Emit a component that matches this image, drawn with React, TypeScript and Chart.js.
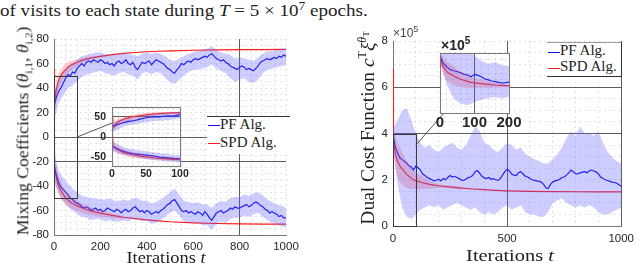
import React, { useEffect, useRef } from 'react';
import { Chart, registerables } from 'chart.js';
Chart.register(...registerables);

// ---------- categories (iterations) ----------
const tLine = [0, 2, 5, 10, 15, 20, 25, 30, 40, 50, 60, 70, 80, 90, 100,
  110, 120, 130, 140, 150, 160, 170, 180, 190, 200,
  210, 220, 230, 240, 250, 260, 270, 280, 290, 300,
  310, 320, 330, 340, 350, 360, 370, 380, 390, 400,
  410, 420, 430, 440, 450, 460, 470, 480, 490, 500,
  510, 520, 530, 540, 550, 560, 570, 580, 590, 600,
  610, 620, 630, 640, 650, 660, 670, 680, 690, 700,
  710, 720, 730, 740, 750, 760, 770, 780, 790, 800,
  810, 820, 830, 840, 850, 860, 870, 880, 890, 900,
  910, 920, 930, 940, 950, 960, 970, 980, 990, 1000];
const tBand = [0, 20, 40, 60, 80, 100, 120, 140, 160, 180, 200, 220, 240, 260, 280, 300,
  320, 340, 360, 380, 400, 420, 440, 460, 480, 500, 520, 540, 560, 580, 600,
  620, 640, 660, 680, 700, 720, 740, 760, 780, 800, 820, 840, 860, 880, 900,
  920, 940, 960, 980, 1000];
const tSpd = [0, 1, 3, 5, 10, 15, 20, 25, 30, 40, 50, 60, 70, 80, 90, 100, 120, 140, 160, 180,
  200, 250, 300, 350, 400, 450, 500, 600, 700, 800, 900, 1000];
const tSpdBand = [0, 5, 10, 20, 30, 40, 50, 60, 80, 100, 120, 150, 200, 300];

// ---------- left: mixing coefficients ----------
const pfUp = [24, 26, 29, 32, 35, 37, 39, 40,
  44, 48, 51, 50, 53, 52, 56,
  58, 60, 58, 61, 62, 61, 63, 62, 61, 63,
  62, 60, 61, 59, 60, 58, 61, 62, 60, 61,
  63, 60, 59, 61, 57, 55, 58, 61, 60, 61,
  62, 59, 61, 63, 62, 61, 60, 58, 56, 55,
  53, 52, 55, 57, 60, 59, 61, 62, 61, 63,
  64, 63, 64, 65, 66, 65, 67, 68, 66, 64,
  63, 62, 63, 61, 60, 58, 57, 56, 55, 57,
  58, 57, 55, 56, 55, 54, 56, 58, 61, 62,
  63, 64, 63, 64, 65, 64, 66, 65, 67, 66];
const pfLow = [-22, -24, -27, -31, -34, -37, -39, -41,
  -43, -45, -47, -50, -51, -53, -54,
  -55, -57, -58, -57, -58, -60, -59, -58, -60, -59,
  -61, -60, -58, -59, -60, -61, -59, -60, -62, -60,
  -59, -61, -60, -58, -57, -59, -61, -60, -62, -60,
  -61, -63, -62, -61, -62, -60, -59, -57, -55, -54,
  -52, -51, -54, -57, -60, -61, -60, -62, -61, -62,
  -63, -61, -62, -64, -61, -63, -66, -68, -65, -62,
  -61, -60, -62, -61, -60, -58, -59, -57, -58, -58,
  -57, -56, -55, -57, -56, -54, -53, -54, -56, -57,
  -59, -60, -62, -61, -62, -63, -65, -64, -66, -66];
const spdUp = [55, 22, 28, 32, 39, 43, 46, 48.5, 50.5, 53,
  55, 57, 58.3, 59.3, 60.2, 61, 62.5, 63.6, 64.5, 65.2,
  65.8, 67.3, 68.3, 69, 69.6, 70, 70.3, 70.8, 71.1, 71.3, 71.4, 71.5];
const spdLow = [2, -20, -25, -28, -33, -37, -40, -42, -44, -47,
  -49.5, -51.5, -53, -54.3, -55.3, -56.2, -57.8, -59.2, -60.3, -61.3,
  -62.2, -64, -65.5, -66.7, -67.7, -68.5, -69.2, -70.1, -70.6, -70.9, -71.1, -71.2];
const pfUpHi = [36, 46, 52, 58, 60, 63, 66, 67, 68, 69, 69, 68, 67, 67, 68, 69, 68, 67, 66, 68,
  69, 68, 69, 68, 66, 63, 62, 64, 66, 68, 69, 70, 71, 72, 74, 71, 69, 68, 67, 64,
  65, 64, 63, 62, 65, 68, 70, 70, 71, 72, 72];
const pfUpLo = [12, 28, 34, 40, 42, 46, 49, 51, 52, 53, 54, 52, 51, 50, 52, 53, 51, 50, 47, 52,
  53, 51, 53, 52, 48, 45, 43, 47, 50, 53, 55, 55, 56, 57, 59, 56, 54, 52, 48, 45,
  47, 48, 45, 44, 47, 52, 55, 56, 57, 58, 59];
const pfLowHi = [-10, -28, -33, -38, -42, -45, -48, -49, -50, -50, -51, -51, -50, -52, -52, -51, -52, -50, -50, -52,
  -52, -54, -53, -51, -48, -45, -42, -47, -52, -53, -54, -53, -55, -55, -58, -54, -52, -53, -50, -49,
  -49, -47, -48, -46, -45, -48, -51, -53, -55, -56, -58];
const pfLowLo = [-36, -46, -52, -57, -60, -63, -65, -66, -68, -67, -67, -69, -68, -69, -69, -68, -69, -67, -67, -69,
  -68, -71, -70, -68, -65, -62, -60, -64, -69, -70, -70, -70, -72, -72, -76, -71, -69, -70, -67, -66,
  -66, -64, -65, -63, -62, -65, -68, -70, -71, -73, -74];
const spdUpHi = [58, 40, 46, 52, 55, 58, 60, 61.5, 62.5, 63.5, 64.5, 65.5, 66.6, 68.6];
const spdUpLo = [5, 22, 30, 38, 44, 48, 50, 52.5, 55.5, 58, 60.5, 62.7, 65, 68];
const spdLowHi = [5, -18, -24, -32, -37, -41, -44, -46.5, -49.5, -52, -54, -57, -60, -64.5];
const spdLowLo = [-30, -36, -42, -47, -51, -53, -55, -56.5, -59, -60.5, -62, -63.5, -65, -67];

// ---------- right: dual cost (x 10^5) ----------
const pfCost = [4.0, 3.85, 3.7, 3.42, 3.3, 3.15, 3.06, 2.95,
  2.87, 2.8, 2.72, 2.6, 2.55, 2.42, 2.6,
  2.52, 2.42, 2.25, 2.18, 2.1, 2.05, 2.0, 1.95, 1.98, 2.02,
  1.95, 2.05, 2.0, 2.1, 2.18, 2.12, 2.15, 2.1, 2.05, 1.98,
  1.97, 2.03, 2.1, 2.12, 2.2, 2.35, 2.4, 2.28, 2.15, 2.08,
  2.05, 2.1, 2.02, 2.05, 2.0, 1.97, 2.05, 2.2, 2.35, 2.45,
  2.38, 2.25, 2.2, 2.18, 2.3, 2.35, 2.25, 2.15, 2.12, 2.05,
  2.0, 1.97, 1.95, 1.93, 1.9, 1.8, 1.65, 1.62, 1.8, 1.9,
  1.95, 1.97, 2.02, 2.1, 2.12, 2.2, 2.3, 2.42, 2.35, 2.26,
  2.25, 2.3, 2.33, 2.35, 2.3, 2.38, 2.42, 2.38, 2.33, 2.25,
  2.12, 2.05, 2.0, 1.97, 1.93, 1.9, 1.88, 1.85, 1.78, 1.72];
const spdCost = [6.8, 4.0, 3.75, 3.5, 3.15, 2.95, 2.8, 2.7, 2.6, 2.47,
  2.35, 2.23, 2.15, 2.07, 2.0, 1.96, 1.9, 1.85, 1.8, 1.77,
  1.74, 1.69, 1.64, 1.6, 1.57, 1.54, 1.52, 1.5, 1.49, 1.48, 1.48, 1.48];
const pfCostHi = [4.2, 4.6, 5.0, 5.1, 4.6, 4.0, 3.6, 3.4, 3.5, 3.3, 3.2, 3.4, 3.5, 3.6, 3.4, 3.3, 3.5, 3.9, 4.3, 4.1,
  3.6, 3.5, 3.3, 3.2, 3.4, 3.6, 3.5, 3.3, 3.4, 3.1, 3.0, 2.9, 2.8, 2.7, 2.7, 2.9, 3.1, 3.4, 3.8, 4.1,
  3.9, 4.3, 4.0, 4.0, 3.9, 4.1, 3.6, 3.2, 3.0, 2.8, 2.7];
const pfCostLo = [3.6, 1.8, 0.8, 0.4, 0.3, 0.5, 0.7, 0.8, 0.9, 0.8, 0.9, 0.7, 0.8, 0.9, 1.0, 0.9, 0.8, 0.7, 0.8, 0.6,
  0.5, 0.6, 0.5, 0.6, 0.8, 0.9, 0.7, 0.8, 0.9, 0.6, 0.5, 0.5, 0.4, 0.4, 0.6, 1.0, 1.1, 1.2, 1.0, 0.9,
  0.8, 0.9, 0.8, 0.9, 0.8, 0.6, 0.5, 0.5, 0.6, 0.7, 0.8];
const spdCostHi = [4.2, 4.0, 3.9, 3.6, 3.4, 3.2, 3.0, 2.8, 2.5, 2.3, 2.2, 2.0, 1.8, 1.7];
const spdCostLo = [3.6, 2.9, 2.5, 2.1, 1.9, 1.8, 1.7, 1.65, 1.6, 1.6, 1.6, 1.6, 1.65, 1.58];

const legendLabels = ['PF Alg.', 'SPD Alg.'];

// ---------- styling ----------
const SERIF = '"Liberation Serif", "Times New Roman", serif';
const SANS = '"Liberation Sans", Arial, sans-serif';
const BLUE = '#0c0ce8';
const RED = '#ff1a1a';
const BLUE_BAND = 'rgba(90, 90, 255, 0.30)';
const RED_BAND = 'rgba(255, 80, 80, 0.28)';
const DARK = 'rgba(30,30,30,0.72)';
const LIGHT = 'rgba(0,0,0,0.11)';
const TICK = '#262626';

const pts = (ts: number[], vs: number[]) => ts.map((t, i) => ({ x: t, y: vs[i] }));
const lineDs = (ts: number[], vs: number[], color: string) => ({
  data: pts(ts, vs), borderColor: color, borderWidth: 1.2, pointRadius: 0, fill: false, tension: 0,
});
const bandDs = (ts: number[], hi: number[], lo: number[], color: string) => [
  { data: pts(ts, hi), borderColor: 'transparent', borderWidth: 0, backgroundColor: color, pointRadius: 0, fill: '+1', tension: 0 },
  { data: pts(ts, lo), borderColor: 'transparent', borderWidth: 0, pointRadius: 0, fill: false, tension: 0 },
];

const near = (a: number, b: number) => Math.abs(a - b) < 1e-6;

function axis(o: any) {
  const isLabel = (v: number) => near(v / o.every, Math.round(v / o.every));
  const isDark = (v: number) => o.dark.some((d: number) => near(d, v));
  return {
    type: 'linear',
    min: o.min,
    max: o.max,
    afterFit: (s: any) => { if (o.horizontal) s.height = o.fixed; else s.width = o.fixed; },
    ticks: {
      stepSize: o.step, autoSkip: false, maxRotation: 0, includeBounds: false, maxTicksLimit: 1000,
      padding: o.padding, font: o.font, color: TICK,
      callback: (v: number) => (isLabel(v) ? String(Math.round(v * 100) / 100) : ''),
    },
    grid: {
      drawTicks: false, lineWidth: 1,
      color: (ctx: any) => {
        const v = ctx.tick ? ctx.tick.value : undefined;
        if (v === undefined) return LIGHT;
        return isDark(v) ? DARK : LIGHT;
      },
    },
    border: {
      display: o.border, color: '#777', width: 1,
      dash: (ctx: any) => {
        const v = ctx.tick ? ctx.tick.value : undefined;
        if (v === undefined) return [];
        return isDark(v) ? [] : [2, 3];
      },
    },
  };
}

const framePlugin = {
  id: 'insetFrame',
  beforeDraw(chart: any) {
    const { ctx, chartArea: a } = chart;
    ctx.save();
    ctx.fillStyle = '#ffffff';
    ctx.fillRect(a.left, a.top, a.right - a.left, a.bottom - a.top);
    ctx.restore();
  },
  afterDraw(chart: any) {
    const { ctx, chartArea: a } = chart;
    ctx.save();
    ctx.strokeStyle = '#7a7a7a';
    ctx.lineWidth = 1;
    ctx.strokeRect(Math.round(a.left) + 0.5, Math.round(a.top) + 0.5, Math.round(a.right - a.left), Math.round(a.bottom - a.top));
    ctx.restore();
  },
};

const zoomBox = (x0: number, x1: number, y0: number, y1: number, from: number[], to: number[]) => ({
  id: 'zoomBox',
  afterDatasetsDraw(chart: any) {
    const { ctx } = chart;
    const { x, y } = chart.scales;
    const l = Math.round(x.getPixelForValue(x0)) + 0.5;
    const r = Math.round(x.getPixelForValue(x1)) + 0.5;
    const t = Math.round(y.getPixelForValue(y1)) + 0.5;
    const b = Math.round(y.getPixelForValue(y0)) + 0.5;
    ctx.save();
    ctx.strokeStyle = '#3a3a3a';
    ctx.lineWidth = 1;
    ctx.strokeRect(l, t, r - l, b - t);
    ctx.beginPath();
    ctx.strokeStyle = '#555';
    ctx.moveTo(x.getPixelForValue(from[0]), y.getPixelForValue(from[1]));
    ctx.lineTo(to[0], to[1]);
    ctx.stroke();
    ctx.restore();
  },
});

function config(datasets: any[], x: any, y: any, padding: any, plugins: any[]) {
  return {
    type: 'line',
    data: { datasets },
    options: {
      responsive: false, animation: false, devicePixelRatio: 1, events: [],
      layout: { padding },
      plugins: { legend: { display: false }, tooltip: { enabled: false } },
      scales: { x, y },
    },
    plugins,
  } as any;
}

const leftDatasets = () => [
  ...bandDs(tBand, pfUpHi, pfUpLo, BLUE_BAND),
  ...bandDs(tBand, pfLowHi, pfLowLo, BLUE_BAND),
  ...bandDs(tSpdBand, spdUpHi, spdUpLo, RED_BAND),
  ...bandDs(tSpdBand, spdLowHi, spdLowLo, RED_BAND),
  lineDs(tLine, pfUp, BLUE),
  lineDs(tLine, pfLow, BLUE),
  lineDs(tSpd, spdUp, RED),
  lineDs(tSpd, spdLow, RED),
];
const rightDatasets = () => [
  ...bandDs(tBand, pfCostHi, pfCostLo, BLUE_BAND),
  ...bandDs(tSpdBand, spdCostHi, spdCostLo, RED_BAND),
  lineDs(tLine, pfCost, BLUE),
  lineDs(tSpd, spdCost, RED),
];

const mainFont = { family: SANS, size: 11.5 };

export default function App() {
  const lRef = useRef<HTMLCanvasElement>(null);
  const liRef = useRef<HTMLCanvasElement>(null);
  const rRef = useRef<HTMLCanvasElement>(null);
  const riRef = useRef<HTMLCanvasElement>(null);

  useEffect(() => {
    const charts: Chart[] = [];
    charts.push(new Chart(lRef.current as any, config(
      leftDatasets(),
      axis({ min: 0, max: 1000, step: 50, every: 200, dark: [800], horizontal: true, fixed: 28, padding: 5, font: mainFont, border: true }),
      axis({ min: -80, max: 80, step: 5, every: 20, dark: [0, -20], horizontal: false, fixed: 54, padding: 5, font: mainFont, border: true }),
      { left: 0, top: 39, right: 34, bottom: 0 },
      [zoomBox(0, 100, -50, 50, [100, 0], [112, 123])],
    )));
    charts.push(new Chart(liRef.current as any, config(
      leftDatasets(),
      axis({ min: 0, max: 100, step: 10, every: 50, dark: [], horizontal: true, fixed: 19, padding: 2, font: { family: SANS, size: 10.5, weight: 'bold' }, border: false }),
      axis({ min: -72, max: 74, step: 10, every: 50, dark: [0, 50], horizontal: false, fixed: 30, padding: 6, font: { family: SANS, size: 10.5, weight: 'bold' }, border: false }),
      { left: 0, top: 10, right: 12, bottom: 0 },
      [framePlugin],
    )));
    charts.push(new Chart(rRef.current as any, config(
      rightDatasets(),
      axis({ min: 0, max: 1000, step: 100, every: 500, dark: [500, 1000], horizontal: true, fixed: 37, padding: 6, font: mainFont, border: true }),
      axis({ min: 0, max: 8, step: 0.5, every: 2, dark: [4, 6], horizontal: false, fixed: 73, padding: 5, font: mainFont, border: true }),
      { left: 0, top: 41, right: 17, bottom: 0 },
      [zoomBox(0, 100, 0, 4, [100, 3.5], [125, 112])],
    )));
    charts.push(new Chart(riRef.current as any, config(
      rightDatasets(),
      axis({ min: 0, max: 200, step: 20, every: 100, dark: [100], horizontal: true, fixed: 20, padding: 1, font: { family: SANS, size: 15, weight: 'bold' }, border: false }),
      axis({ min: -0.3, max: 4.2, step: 0.5, every: 2, dark: [2], horizontal: false, fixed: 35, padding: 4, font: { family: SANS, size: 15, weight: 'bold' }, border: false }),
      { left: 0, top: 15, right: 16, bottom: 0 },
      [framePlugin],
    )));
    return () => charts.forEach((c) => c.destroy());
  }, []);

  const abs = (s: any) => ({ position: 'absolute', ...s }) as React.CSSProperties;
  const serifText = { fontFamily: SERIF, color: '#1e1e1e', whiteSpace: 'nowrap' as const };
  const swatch = (color: string, top: number) => (
    <div style={abs({ left: 1, top, width: 12, height: 0, borderTop: `1.4px solid ${color}` })} />
  );
  const legendRow = (label: string, top: number) => (
    <div style={abs({ left: 13, top, fontSize: 15, lineHeight: '15px', ...serifText })}>{label}</div>
  );

  return (
    <div style={abs({ position: 'fixed', left: 0, top: 0, width: 640, height: 263, overflow: 'hidden', background: '#fff' })}>
      <div style={abs({ left: 0, top: 2, fontSize: 17, lineHeight: '17px', transform: 'scaleX(1.12)', transformOrigin: 'left top', ...serifText })}>
        of visits to each state during <i>T</i> = 5 × 10<span style={{ fontSize: 12, position: 'relative', top: -6 }}>7</span> epochs.
      </div>

      <canvas ref={lRef} width={320} height={263} style={abs({ left: 0, top: 0, width: 320, height: 263 })} />
      <canvas ref={rRef} width={320} height={263} style={abs({ left: 320, top: 0, width: 320, height: 263 })} />
      <canvas ref={liRef} width={110} height={90} style={abs({ left: 82, top: 95, width: 110, height: 90 })} />
      <canvas ref={riRef} width={120} height={95} style={abs({ left: 405, top: 38, width: 120, height: 95 })} />

      {/* axis titles */}
      <div style={abs({ left: 26, top: 130.5, fontSize: 17, lineHeight: '17px', transform: 'translate(-50%,-50%) rotate(-90deg) scaleX(1.04)', ...serifText })}>
        Mixing Coefficients (<i>θ</i><sub style={{ fontSize: 11 }}>i,1</sub>, <i>θ</i><sub style={{ fontSize: 11 }}>i,2</sub>)
      </div>
      <div style={abs({ left: 166, top: 249, fontSize: 17, lineHeight: '17px', transform: 'translateX(-50%) scaleX(1.08)', ...serifText })}>
        Iterations <i>t</i>
      </div>
      <div style={abs({ left: 365, top: 127.5, fontSize: 19.5, lineHeight: '19.5px', transform: 'translate(-50%,-50%) rotate(-90deg)', ...serifText })}>
        Dual Cost Function <i>c</i><sup style={{ fontSize: 12 }}>T</sup><i>ξ</i><sup style={{ fontSize: 12 }}><i>θ</i><sub style={{ fontSize: 9 }}>T</sub></sup>
      </div>
      <div style={abs({ left: 509.5, top: 246.5, fontSize: 17, lineHeight: '17px', transform: 'translateX(-50%) scaleX(1.2)', ...serifText })}>
        Iterations <i>t</i>
      </div>

      {/* exponent labels */}
      <div style={abs({ left: 393, top: 27, fontSize: 12, lineHeight: '12px', fontFamily: SANS, color: '#444', whiteSpace: 'nowrap' })}>
        ×10<span style={{ fontSize: 9, position: 'relative', top: -5 }}>5</span>
      </div>
      <div style={abs({ left: 441, top: 38, fontSize: 14, lineHeight: '14px', fontFamily: SANS, fontWeight: 'bold', color: TICK, whiteSpace: 'nowrap' })}>
        ×10<span style={{ fontSize: 10, position: 'relative', top: -6 }}>5</span>
      </div>

      {/* legends */}
      <div style={abs({ left: 207, top: 116, width: 83, height: 38, background: '#fff', borderTop: '1px solid #333', boxSizing: 'border-box' })}>
        {swatch(BLUE, 8)}
        {legendRow(legendLabels[0], 0)}
        {swatch(RED, 26)}
        {legendRow(legendLabels[1], 18)}
      </div>
      <div style={abs({ left: 547, top: 42, width: 75, height: 35, background: '#fff', borderTop: '1px solid #999', borderRight: '1px solid #333', borderBottom: '1px solid #333', boxSizing: 'border-box' })}>
        {swatch(BLUE, 8.5)}
        {legendRow(legendLabels[0], 0)}
        {swatch(RED, 24.5)}
        {legendRow(legendLabels[1], 16)}
      </div>
    </div>
  );
}
